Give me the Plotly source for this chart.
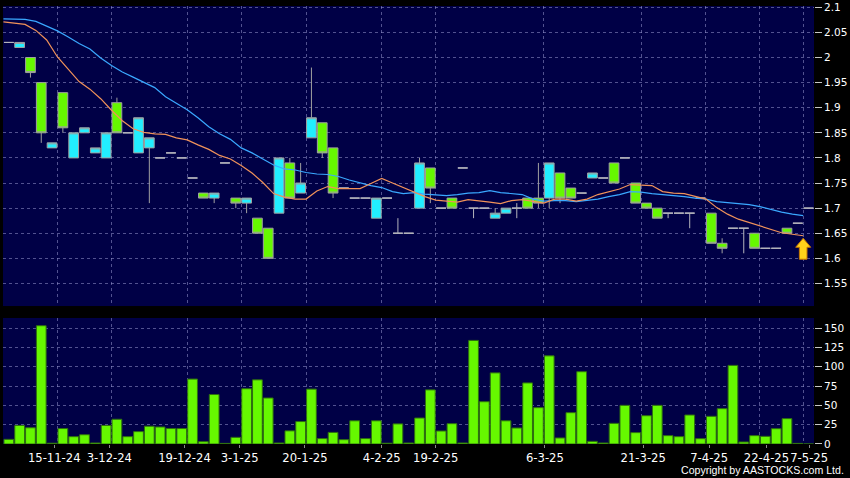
import numpy as np
import plotly.graph_objects as go

# ---------------- data ----------------
open_ = [2.03, 2.02, 2.00, 1.95, 1.82, 1.93, 1.80, 1.85, 1.81, 1.80,
         1.91, 1.85, 1.81, 1.82, 1.80, 1.81, 1.80, 1.76, 1.73, 1.72,
         1.79, 1.72, 1.71, 1.68, 1.66, 1.69, 1.79, 1.73, 1.84, 1.87,
         1.82, 1.74, 1.72, 1.72, 1.68, 1.72, 1.65, 1.65, 1.70, 1.78,
         1.70, 1.72, 1.78, 1.70, 1.70, 1.68, 1.69, 1.70, 1.72, 1.72,
         1.72, 1.77, 1.74, 1.73, 1.76, 1.76, 1.79, 1.80, 1.75, 1.71,
         1.70, 1.69, 1.69, 1.69, 1.72, 1.69, 1.63, 1.66, 1.66, 1.65,
         1.62, 1.62, 1.66, 1.67, 1.70]
high = [2.03, 2.03, 2.00, 1.95, 1.83, 1.93, 1.85, 1.86, 1.82, 1.85,
        1.92, 1.85, 1.88, 1.84, 1.80, 1.81, 1.80, 1.76, 1.73, 1.73,
        1.79, 1.72, 1.72, 1.68, 1.66, 1.80, 1.80, 1.79, 1.98, 1.87,
        1.82, 1.74, 1.72, 1.72, 1.72, 1.72, 1.68, 1.65, 1.80, 1.78,
        1.70, 1.72, 1.78, 1.70, 1.70, 1.70, 1.70, 1.71, 1.72, 1.79,
        1.79, 1.77, 1.74, 1.73, 1.77, 1.76, 1.79, 1.80, 1.75, 1.71,
        1.70, 1.69, 1.69, 1.69, 1.72, 1.69, 1.64, 1.66, 1.66, 1.65,
        1.62, 1.62, 1.66, 1.67, 1.70]
low = [2.03, 2.02, 1.96, 1.83, 1.82, 1.85, 1.80, 1.85, 1.81, 1.80,
       1.85, 1.85, 1.81, 1.71, 1.80, 1.81, 1.80, 1.76, 1.72, 1.71,
       1.79, 1.70, 1.69, 1.65, 1.60, 1.69, 1.72, 1.73, 1.84, 1.80,
       1.72, 1.74, 1.72, 1.72, 1.68, 1.72, 1.65, 1.65, 1.70, 1.71,
       1.70, 1.70, 1.78, 1.68, 1.70, 1.68, 1.69, 1.68, 1.70, 1.70,
       1.70, 1.71, 1.72, 1.73, 1.76, 1.76, 1.75, 1.80, 1.71, 1.70,
       1.68, 1.68, 1.69, 1.66, 1.72, 1.63, 1.61, 1.66, 1.61, 1.62,
       1.62, 1.62, 1.65, 1.67, 1.70]
close = [2.03, 2.03, 1.97, 1.85, 1.83, 1.86, 1.85, 1.86, 1.82, 1.85,
         1.85, 1.85, 1.88, 1.84, 1.80, 1.81, 1.80, 1.76, 1.72, 1.73,
         1.79, 1.71, 1.72, 1.65, 1.60, 1.80, 1.72, 1.75, 1.88, 1.81,
         1.73, 1.74, 1.72, 1.72, 1.72, 1.72, 1.65, 1.65, 1.79, 1.74,
         1.70, 1.70, 1.78, 1.70, 1.70, 1.69, 1.70, 1.70, 1.70, 1.71,
         1.79, 1.72, 1.72, 1.73, 1.77, 1.76, 1.75, 1.80, 1.71, 1.70,
         1.68, 1.69, 1.69, 1.69, 1.72, 1.63, 1.62, 1.66, 1.66, 1.62,
         1.62, 1.62, 1.65, 1.67, 1.70]
volume = [6, 24, 21, 153, 1, 20, 9.5, 12, 1.3, 24,
          32, 9.5, 16, 23, 22, 20, 20, 84, 3, 64,
          0.8, 8.6, 71.5, 83, 59.5, 1.3, 17, 29, 71, 7,
          15, 5.6, 30, 7, 30, 1, 26, 1.3, 33.6, 70,
          16.8, 26.3, 1.3, 134, 54.7, 92, 30, 20.7, 79, 47,
          114, 7.8, 40.5, 93.5, 3.4, 1.3, 26.7, 50, 14.7, 36.6,
          50, 10.8, 9.5, 37.5, 6.9, 35.8, 45.7, 101.7, 2.6, 10.8,
          9.9, 19.8, 32.8, 0.8, 0]
ma_short = [2.071, 2.069, 2.066, 2.054, 2.035, 2.001, 1.976, 1.952, 1.937, 1.918,
            1.895, 1.874, 1.858, 1.851, 1.848, 1.847, 1.840, 1.836, 1.826, 1.817,
            1.805, 1.798, 1.785, 1.770, 1.751, 1.729, 1.722, 1.718, 1.718, 1.734,
            1.743, 1.739, 1.739, 1.739, 1.749, 1.759, 1.750, 1.741, 1.733, 1.723,
            1.716, 1.714, 1.712, 1.717, 1.715, 1.712, 1.709, 1.715, 1.717, 1.713,
            1.710, 1.718, 1.718, 1.714, 1.718, 1.727, 1.733, 1.738, 1.747, 1.746,
            1.745, 1.733, 1.730, 1.729, 1.724, 1.718, 1.701, 1.688, 1.678, 1.671,
            1.665, 1.658, 1.651, 1.648, 1.645]
ma_long = [2.077, 2.077, 2.076, 2.072, 2.063, 2.053, 2.041, 2.028, 2.017, 1.999,
           1.984, 1.971, 1.961, 1.951, 1.940, 1.922, 1.909, 1.896, 1.880, 1.862,
           1.848, 1.837, 1.820, 1.810, 1.798, 1.786, 1.778, 1.776, 1.771, 1.768,
           1.767, 1.763, 1.756, 1.750, 1.745, 1.741, 1.733, 1.729, 1.731, 1.728,
           1.726, 1.725, 1.727, 1.730, 1.731, 1.735, 1.731, 1.729, 1.727, 1.718,
           1.714, 1.715, 1.715, 1.713, 1.715, 1.718, 1.723, 1.727, 1.733, 1.732,
           1.729, 1.727, 1.726, 1.723, 1.720, 1.718, 1.713, 1.711, 1.709, 1.707,
           1.703, 1.697, 1.692, 1.688, 1.685]
tick_labels = ["15-11-24", "3-12-24", "19-12-24", "3-1-25", "20-1-25", "4-2-25",
               "19-2-25", "6-3-25", "21-3-25", "7-4-25", "22-4-25", "7-5-25"]
tick_pos = [4.2, 9.3, 16.25, 21.35, 27.4, 34.5, 39.5, 49.6, 58.7, 64.8, 70.1, 74.05]
grid_pos = [4.5, 9.5, 16.5, 21.5, 27.5, 34.5, 39.5, 49.5, 58.5, 64.5, 69.5, 73.5]
price_ticks = [1.55, 1.6, 1.65, 1.7, 1.75, 1.8, 1.85, 1.9, 1.95, 2.0, 2.05, 2.1]
price_tick_text = ["1.55", "1.6", "1.65", "1.7", "1.75", "1.8", "1.85", "1.9",
                   "1.95", "2", "2.05", "2.1"]
vol_ticks = [0, 25, 50, 75, 100, 125, 150]
signal_idx = [74]
signal_price = [1.64]

# ---------------- styling ----------------
BG = "#000000"
PLOT_BG = "#000046"
GRID = "rgba(150,150,205,0.55)"
CYAN = "#22eeff"
GREEN = "#66f800"
WICK = "#a0a0a0"
DOJI = "#b4b4bc"
FONT = "DejaVu Sans"

n = len(close)
idx = np.arange(n)
o = np.array(open_); h = np.array(high); l = np.array(low); c = np.array(close)
doji = np.isclose(o, c)
body = ~doji

fig = go.Figure()

fig.add_trace(go.Candlestick(
    x=idx[body], open=o[body], high=h[body], low=l[body], close=c[body],
    increasing=dict(fillcolor=CYAN, line=dict(color=WICK, width=1)),
    decreasing=dict(fillcolor=GREEN, line=dict(color=WICK, width=1)),
    whiskerwidth=0, showlegend=False, xaxis="x", yaxis="y"))

fig.add_trace(go.Candlestick(
    x=idx[doji], open=o[doji], high=h[doji], low=l[doji], close=c[doji],
    increasing=dict(fillcolor=DOJI, line=dict(color=DOJI, width=1)),
    decreasing=dict(fillcolor=DOJI, line=dict(color=DOJI, width=1)),
    whiskerwidth=0, showlegend=False, xaxis="x", yaxis="y"))

ma_x = idx - 0.5
fig.add_trace(go.Scatter(x=ma_x, y=ma_long, mode="lines",
                         line=dict(color="#3aa8ff", width=1.2),
                         showlegend=False, xaxis="x", yaxis="y"))
fig.add_trace(go.Scatter(x=ma_x, y=ma_short, mode="lines",
                         line=dict(color="#f0925a", width=1.2),
                         showlegend=False, xaxis="x", yaxis="y"))

fig.add_trace(go.Bar(x=idx, y=volume, width=0.9,
                     marker=dict(color=GREEN, line=dict(color="#2f6f10", width=1)),
                     showlegend=False, xaxis="x2", yaxis="y2"))

# signal arrow (fixed pixel glyph anchored on the data point)
for sx, sp in zip(signal_idx, signal_price):
    fig.add_shape(type="path", xref="x", yref="y",
                  xsizemode="pixel", ysizemode="pixel",
                  xanchor=sx - 0.5, yanchor=sp,
                  path="M 0,0 L 7.5,-9 L 3.8,-9 L 3.8,-21 L -3.8,-21 L -3.8,-9 L -7.5,-9 Z",
                  fillcolor="#ffd21a", line=dict(color="#c87800", width=1))

xr = [-0.54, n - 0.5]
common_x = dict(range=xr, showgrid=False, zeroline=False, showline=False,
                automargin=False,
                minor=dict(tickmode="array", tickvals=grid_pos, showgrid=True,
                           gridcolor=GRID, griddash="3px,3px", gridwidth=1,
                           ticks=""))

ytick_common = dict(side="right", showgrid=True, gridcolor=GRID, griddash="3px,3px",
                    gridwidth=1, zeroline=False, ticks="outside", ticklen=7,
                    tickcolor="#c8c8c8", tickwidth=1, automargin=False,
                    tickfont=dict(family=FONT, size=10.5, color="#ffffff"))

fig.update_layout(
    width=850, height=478,
    paper_bgcolor=BG, plot_bgcolor=PLOT_BG,
    margin=dict(l=3, r=36, t=6, b=34),
    boxgap=0.1, boxgroupgap=0,
    bargap=0.1,
    font=dict(family=FONT, color="#ffffff", size=11),
    xaxis=dict(domain=[0, 1], anchor="y", showticklabels=False, ticks="",
               rangeslider=dict(visible=False), **common_x),
    xaxis2=dict(domain=[0, 1], anchor="y2", tickmode="array",
                tickvals=tick_pos, ticktext=tick_labels, ticks="outside",
                ticklen=3, tickcolor="#8a8a8a", tickangle=0,
                tickfont=dict(family=FONT, size=11.6, color="#ffffff"),
                **common_x),
    yaxis=dict(domain=[0.315, 1], anchor="x",
               range=[1.505, 2.1026], tickmode="array", tickvals=price_ticks,
               ticktext=price_tick_text, **ytick_common),
    yaxis2=dict(domain=[0, 0.2877], anchor="x2",
                range=[0, 163], tickmode="array", tickvals=vol_ticks,
                ticktext=[str(v) for v in vol_ticks], **ytick_common),
    annotations=[dict(text="Copyright by AASTOCKS.com Ltd.", xref="paper", yref="paper",
                      x=1.0395, y=-0.0594, xanchor="right", yanchor="middle",
                      showarrow=False,
                      font=dict(family="Liberation Sans", size=10.6, color="#ffffff"))],
)

fig.write_html("out.html",
               config={"displayModeBar": False},
               post_script="document.body.style.margin='0';"
                           "document.body.style.padding='0';"
                           "document.body.style.background='#000000';")
